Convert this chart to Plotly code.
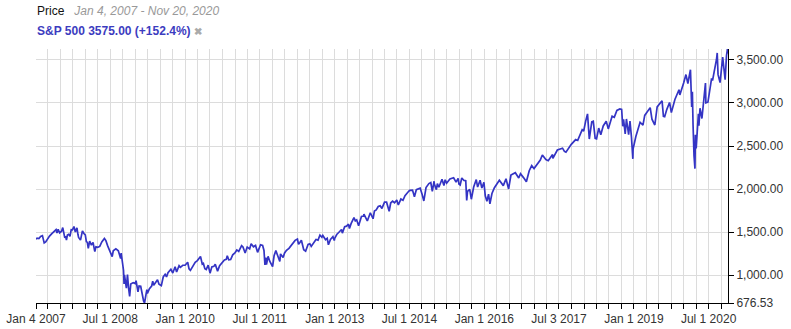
import plotly.graph_objects as go

# ---------------- data ----------------
dates = [
    # 2007
    "2007-01-04","2007-01-12","2007-01-25","2007-02-07","2007-02-20","2007-02-27","2007-03-05","2007-03-16","2007-03-30",
    "2007-04-13","2007-04-30","2007-05-15","2007-05-31","2007-06-07","2007-06-15","2007-06-26","2007-07-10","2007-07-19",
    "2007-07-26","2007-08-03","2007-08-09","2007-08-15","2007-08-22","2007-08-31","2007-09-10","2007-09-19","2007-09-28",
    "2007-10-09","2007-10-19","2007-10-31","2007-11-07","2007-11-12","2007-11-26","2007-12-10","2007-12-21","2007-12-31",
    # 2008
    "2008-01-08","2008-01-15","2008-01-22","2008-02-01","2008-02-14","2008-02-26","2008-03-07","2008-03-10","2008-03-18",
    "2008-03-31","2008-04-15","2008-04-30","2008-05-19","2008-05-30","2008-06-12","2008-06-27","2008-07-15","2008-07-23",
    "2008-08-11","2008-08-29","2008-09-15","2008-09-19","2008-09-29","2008-10-06","2008-10-10","2008-10-13","2008-10-27",
    "2008-11-04","2008-11-12","2008-11-20","2008-11-28","2008-12-08","2008-12-16","2008-12-31",
    # 2009
    "2009-01-06","2009-01-20","2009-01-28","2009-02-09","2009-02-23","2009-03-02","2009-03-09","2009-03-17","2009-03-26",
    "2009-03-30","2009-04-14","2009-04-30","2009-05-08","2009-05-15","2009-05-29","2009-06-12","2009-06-23","2009-07-10",
    "2009-07-24","2009-08-07","2009-08-17","2009-08-28","2009-09-18","2009-10-02","2009-10-19","2009-10-30","2009-11-17",
    "2009-11-27","2009-12-14","2009-12-31",
    # 2010
    "2010-01-19","2010-01-29","2010-02-08","2010-02-26","2010-03-15","2010-03-31","2010-04-15","2010-04-23","2010-05-06",
    "2010-05-14","2010-05-25","2010-06-04","2010-06-18","2010-07-02","2010-07-15","2010-07-30","2010-08-09","2010-08-26",
    "2010-09-10","2010-09-30","2010-10-15","2010-10-29","2010-11-05","2010-11-16","2010-11-30","2010-12-15","2010-12-31",
    # 2011
    "2011-01-14","2011-01-28","2011-02-18","2011-02-28","2011-03-16","2011-03-31","2011-04-18","2011-04-29","2011-05-16",
    "2011-05-31","2011-06-15","2011-06-30","2011-07-07","2011-07-22","2011-08-01","2011-08-08","2011-08-15","2011-08-19",
    "2011-08-31","2011-09-12","2011-09-22","2011-10-03","2011-10-14","2011-10-27","2011-11-09","2011-11-25","2011-11-30",
    "2011-12-19","2011-12-30",
    # 2012
    "2012-01-13","2012-01-31","2012-02-15","2012-02-29","2012-03-16","2012-04-02","2012-04-10","2012-04-20","2012-05-01",
    "2012-05-18","2012-06-01","2012-06-19","2012-07-02","2012-07-12","2012-07-31","2012-08-16","2012-08-31","2012-09-14",
    "2012-09-28","2012-10-05","2012-10-25","2012-11-06","2012-11-15","2012-11-30","2012-12-18","2012-12-28","2012-12-31",
    # 2013
    "2013-01-15","2013-01-31","2013-02-19","2013-02-25","2013-03-14","2013-03-28","2013-04-11","2013-04-18","2013-04-30",
    "2013-05-21","2013-05-31","2013-06-10","2013-06-24","2013-07-15","2013-07-31","2013-08-02","2013-08-27","2013-09-18",
    "2013-10-08","2013-10-18","2013-10-31","2013-11-15","2013-11-29","2013-12-12","2013-12-31",
    # 2014
    "2014-01-15","2014-02-03","2014-02-14","2014-02-28","2014-03-14","2014-03-31","2014-04-11","2014-04-30","2014-05-15",
    "2014-05-30","2014-06-20","2014-07-03","2014-07-24","2014-07-31","2014-08-07","2014-08-21","2014-09-18","2014-10-01",
    "2014-10-15","2014-10-31","2014-11-21","2014-12-05","2014-12-16","2014-12-29","2014-12-31",
    # 2015
    "2015-01-15","2015-01-22","2015-02-02","2015-02-25","2015-03-11","2015-03-20","2015-03-31","2015-04-24","2015-05-21",
    "2015-06-08","2015-06-23","2015-06-29","2015-07-08","2015-07-20","2015-08-05","2015-08-18","2015-08-25","2015-08-31",
    "2015-09-16","2015-09-28","2015-10-15","2015-11-03","2015-11-13","2015-12-01","2015-12-14","2015-12-29",
    # 2016
    "2016-01-08","2016-01-20","2016-02-01","2016-02-11","2016-02-26","2016-03-15","2016-04-20","2016-05-19","2016-06-08",
    "2016-06-27","2016-07-14","2016-08-15","2016-09-09","2016-09-22","2016-10-14","2016-11-04","2016-11-25","2016-12-13",
    "2016-12-30",
    # 2017
    "2017-01-26","2017-02-14","2017-03-01","2017-03-27","2017-04-13","2017-05-15","2017-05-17","2017-06-19","2017-07-27",
    "2017-08-10","2017-08-21","2017-09-29","2017-10-31","2017-11-15","2017-12-18","2017-12-29",
    # 2018
    "2018-01-12","2018-01-26","2018-02-05","2018-02-08","2018-02-26","2018-03-09","2018-03-23","2018-04-02","2018-04-18",
    "2018-05-03","2018-05-21","2018-06-12","2018-06-27","2018-07-25","2018-08-10","2018-08-29","2018-09-20","2018-10-03",
    "2018-10-11","2018-10-17","2018-10-29","2018-11-07","2018-11-23","2018-12-03","2018-12-14","2018-12-24","2018-12-26",
    "2018-12-31",
    # 2019
    "2019-01-15","2019-02-15","2019-03-08","2019-03-21","2019-04-30","2019-05-13","2019-06-03","2019-06-20","2019-07-15",
    "2019-07-26","2019-08-05","2019-08-14","2019-08-30","2019-09-19","2019-10-02","2019-10-28","2019-11-27","2019-12-03",
    "2019-12-31",
    # 2020
    "2020-01-17","2020-01-31","2020-02-19","2020-02-28","2020-03-04","2020-03-09","2020-03-12","2020-03-13","2020-03-16",
    "2020-03-23","2020-03-26","2020-04-01","2020-04-17","2020-04-21","2020-04-29","2020-05-13","2020-06-08","2020-06-11",
    "2020-06-26","2020-07-22","2020-07-31","2020-08-28","2020-09-02","2020-09-08","2020-09-23","2020-10-12","2020-10-30",
    "2020-11-09","2020-11-16","2020-11-20",
]

closes = [
    # 2007
    1418, 1430, 1426, 1450, 1459, 1399, 1374, 1386, 1421,
    1453, 1482, 1501, 1530, 1490, 1532, 1492, 1510, 1553,
    1482, 1433, 1453, 1407, 1465, 1474, 1451, 1529, 1527,
    1565, 1501, 1549, 1475, 1439, 1407, 1515, 1484, 1468,
    # 2008
    1390, 1380, 1310, 1395, 1349, 1381, 1293, 1273, 1330,
    1323, 1334, 1386, 1427, 1400, 1340, 1278, 1215, 1283,
    1305, 1283, 1193, 1255, 1106, 1057, 899, 1003, 848,
    1006, 853, 752, 896, 910, 913, 903,
    # 2009
    935, 805, 874, 870, 743, 700, 676.53, 778, 832,
    788, 842, 873, 930, 882, 919, 946, 895, 879,
    979, 1010, 980, 1029, 1068, 1025, 1097, 1036, 1110,
    1091, 1115, 1115,
    # 2010
    1150, 1074, 1056, 1104, 1150, 1169, 1211, 1217, 1128,
    1136, 1074, 1065, 1117, 1023, 1096, 1102, 1127, 1047,
    1110, 1141, 1176, 1183, 1225, 1179, 1181, 1236, 1258,
    # 2011
    1293, 1276, 1343, 1327, 1257, 1326, 1305, 1364, 1329,
    1345, 1265, 1321, 1353, 1345, 1287, 1119, 1204, 1124,
    1219, 1162, 1130, 1099, 1225, 1285, 1229, 1159, 1247,
    1206, 1258,
    # 2012
    1289, 1312, 1343, 1366, 1404, 1419, 1358, 1379, 1406,
    1295, 1278, 1357, 1365, 1334, 1379, 1415, 1407, 1466,
    1441, 1461, 1412, 1428, 1353, 1416, 1447, 1402, 1426,
    # 2013
    1472, 1498, 1530, 1488, 1563, 1569, 1593, 1541, 1598,
    1669, 1631, 1643, 1573, 1682, 1686, 1710, 1630, 1725,
    1655, 1745, 1757, 1798, 1806, 1775, 1848,
    # 2014
    1848, 1742, 1838, 1859, 1841, 1872, 1815, 1884, 1870,
    1924, 1963, 1985, 1988, 1931, 1910, 1993, 2011, 1947,
    1862, 2018, 2064, 2075, 1973, 2091, 2059,
    # 2015
    1993, 2063, 2021, 2114, 2041, 2108, 2068, 2117, 2131,
    2080, 2124, 2058, 2047, 2129, 2100, 2097, 1868, 1972,
    1996, 1882, 2024, 2110, 2023, 2103, 2012, 2078,
    # 2016
    1922, 1859, 1940, 1829, 1948, 2016, 2102, 2040, 2119,
    2001, 2163, 2190, 2128, 2178, 2133, 2085, 2213, 2272,
    2239,
    # 2017
    2297, 2338, 2396, 2342, 2329, 2402, 2357, 2453, 2475,
    2438, 2428, 2519, 2575, 2565, 2690, 2674,
    # 2018
    2786, 2873, 2649, 2581, 2780, 2787, 2588, 2582, 2708,
    2630, 2733, 2787, 2699, 2846, 2833, 2914, 2931, 2926,
    2729, 2811, 2641, 2814, 2633, 2790, 2600, 2351, 2468,
    2507,
    # 2019
    2611, 2776, 2743, 2855, 2946, 2812, 2744, 2954, 3014,
    3026, 2845, 2840, 2926, 3006, 2888, 3040, 3154, 3093,
    3231,
    # 2020
    3330, 3226, 3386, 2954, 3130, 2747, 2481, 2711, 2386,
    2237, 2630, 2471, 2875, 2737, 2939, 2820, 3232, 3002,
    3009, 3276, 3271, 3508, 3581, 3332, 3237, 3534, 3270,
    3550, 3626.91, 3575,
]

y_ticks = [676.53, 1000, 1500, 2000, 2500, 3000, 3500]
x_label_dates = {
    "2007-01-04": "Jan 4 2007", "2008-07-01": "Jul 1 2008", "2010-01-01": "Jan 1 2010",
    "2011-07-01": "Jul 1 2011", "2013-01-01": "Jan 1 2013", "2014-07-01": "Jul 1 2014",
    "2016-01-01": "Jan 1 2016", "2017-07-01": "Jul 3 2017", "2019-01-01": "Jan 1 2019",
    "2020-07-01": "Jul 1 2020",
}
x_start, x_end = "2007-01-04", "2020-11-20"

# quarterly tick dates
x_ticks = ["2007-01-04"]
for yr in range(2007, 2021):
    for m in ("01", "04", "07", "10"):
        d = f"{yr}-{m}-01"
        if d > "2007-01-04" and d <= x_end:
            x_ticks.append(d)
x_ticktext = [x_label_dates.get(d, "") for d in x_ticks]

LINE = "#3434c4"
FONT = "Arial, Liberation Sans, sans-serif"

fig = go.Figure()
fig.add_trace(go.Scatter(
    x=dates, y=closes, mode="lines",
    line=dict(color=LINE, width=1.7),
    hoverinfo="skip", showlegend=False,
))

fig.update_layout(
    width=791, height=329,
    margin=dict(l=36, r=63, t=49, b=26, pad=0),
    paper_bgcolor="white", plot_bgcolor="white",
    font=dict(family=FONT, size=12, color="#333"),
    xaxis=dict(
        type="date", range=[x_start, x_end], automargin=False,
        tickmode="array", tickvals=x_ticks, ticktext=x_ticktext,
        showgrid=True, gridcolor="#dcdcdc", gridwidth=1,
        showline=True, linecolor="black", linewidth=1,
        ticks="outside", ticklen=5, tickcolor="black", tickwidth=1,
        tickfont=dict(family=FONT, size=12, color="#333"),
        zeroline=False,
    ),
    yaxis=dict(
        side="right", range=[676.53, 3626.91], automargin=False,
        tickmode="array", tickvals=y_ticks,
        ticktext=[f"{v:,.2f}" for v in y_ticks],
        showgrid=True, gridcolor="#dcdcdc", gridwidth=1,
        showline=True, linecolor="black", linewidth=1,
        ticks="outside", ticklen=5, tickcolor="black", tickwidth=1,
        tickfont=dict(family=FONT, size=12, color="#333"),
        zeroline=False,
    ),
    annotations=[
        dict(xref="paper", yref="paper", x=0, y=1, xshift=-1, yshift=38,
             xanchor="left", yanchor="middle", showarrow=False,
             text="Price&nbsp;&nbsp;&nbsp;<i><span style='color:#999'>Jan 4, 2007 - Nov 20, 2020</span></i>",
             font=dict(family=FONT, size=12, color="#111")),
        dict(xref="paper", yref="paper", x=0, y=1, xshift=-1, yshift=18,
             xanchor="left", yanchor="middle", showarrow=False,
             text="<b>S&P 500 3575.00 (+152.4%)</b> <span style='color:#aaa;font-size:10px'><b>✖</b></span>",
             font=dict(family=FONT, size=12, color="#3c3cbf")),
    ],
)

fig.write_html("out.html")
